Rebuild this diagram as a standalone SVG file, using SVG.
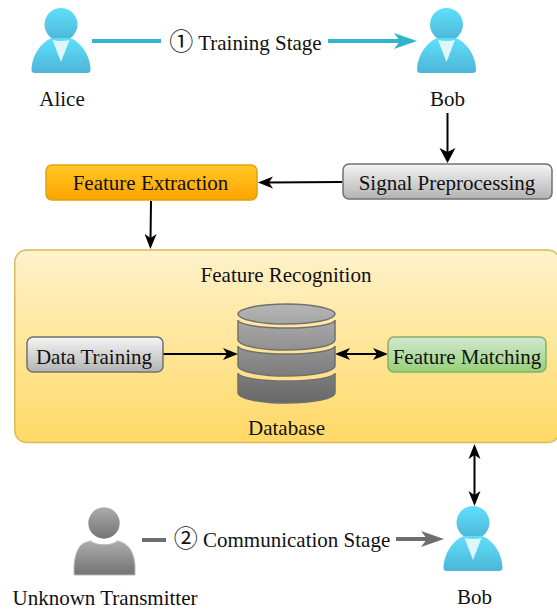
<svg xmlns="http://www.w3.org/2000/svg" width="557" height="612" viewBox="0 0 557 612">
<style>
text{font-family:"Liberation Serif","Noto Sans CJK SC","Times New Roman",serif;fill:#111;font-size:21px;text-anchor:middle}
.n{font-size:24px}
.c{stroke:#000;stroke-width:2;fill:none}
.box{stroke-width:1.5}
.grayb{fill:url(#gBox);stroke:#707070}
.db{fill:url(#gDb);stroke:#707070;stroke-width:1.5}
</style>
<defs>
<linearGradient id="gUser" x1="0" y1="0" x2="0" y2="1"><stop offset="0" stop-color="#5fdffc"/><stop offset="1" stop-color="#4db5d6"/></linearGradient>
<linearGradient id="gGray" x1="0" y1="0" x2="0" y2="1"><stop offset="0" stop-color="#acacac"/><stop offset="1" stop-color="#737373"/></linearGradient>
<linearGradient id="gBox" x1="0" y1="0" x2="0" y2="1"><stop offset="0" stop-color="#f5f5f5"/><stop offset="1" stop-color="#b3b3b3"/></linearGradient>
<linearGradient id="gOrange" x1="0" y1="0" x2="0" y2="1"><stop offset="0" stop-color="#ffc928"/><stop offset="1" stop-color="#ffa300"/></linearGradient>
<linearGradient id="gGreen" x1="0" y1="0" x2="0" y2="1"><stop offset="0" stop-color="#d5e8d4"/><stop offset="1" stop-color="#97d077"/></linearGradient>
<linearGradient id="gPanel" x1="0" y1="0" x2="0" y2="1"><stop offset="0" stop-color="#fff2cc"/><stop offset="1" stop-color="#ffd966"/></linearGradient>
<linearGradient id="gDb" gradientUnits="userSpaceOnUse" x1="0" y1="304" x2="0" y2="404"><stop offset="0" stop-color="#b5b5b5"/><stop offset="1" stop-color="#666"/></linearGradient>
<marker id="ab" markerUnits="userSpaceOnUse" markerWidth="16" markerHeight="14" refX="6" refY="7" orient="auto-start-reverse"><path d="M0 1L15 7L0 13L4 7Z" fill="#000"/></marker>
<marker id="abL" markerUnits="userSpaceOnUse" markerWidth="16" markerHeight="18" refX="6" refY="9" orient="auto-start-reverse"><path d="M0 1L15 9L0 17L4 9Z" fill="#000"/></marker>
<marker id="at" markerUnits="userSpaceOnUse" markerWidth="24" markerHeight="18" refX="12" refY="9" orient="auto"><path d="M0 1L23 9L0 17L6 9Z" fill="#31b4cc"/></marker>
<marker id="ag" markerUnits="userSpaceOnUse" markerWidth="24" markerHeight="18" refX="12" refY="9" orient="auto"><path d="M0 1L23 9L0 17L6 9Z" fill="#6e6e6e"/></marker>
<g id="person">
<circle cx="0" cy="-15.500" r="16.500" fill="url(#gUser)"/>
<path d="M-29.500 30C-29.500 18-22 3-9-2L9-2C22 3 29.500 18 29.500 30Q29.500 33 26 33L-26 33Q-29.500 33-29.500 30Z" fill="url(#gUser)"/>
<path d="M-8.500 0Q0 2 8.500 0L0 22Z" fill="#dff6fd"/>
</g>
</defs>
<g id="panel"><rect x="14.800" y="250" width="545" height="192.500" rx="12" fill="url(#gPanel)" stroke="#dcb95a" stroke-width="1.500"/><text x="286" y="282">Feature Recognition</text></g>
<g id="connectors">
<path d="M92 41H161" stroke="#31b4cc" stroke-width="4" fill="none"/>
<path d="M328 41H406" stroke="#31b4cc" stroke-width="4" fill="none" marker-end="url(#at)"/>
<path d="M447.500 113V154" class="c" marker-end="url(#abL)"/>
<path d="M342 182L267 182.500" class="c" marker-end="url(#ab)"/>
<path d="M151 201L150.500 240" class="c" marker-end="url(#ab)"/>
<path d="M163 354H229" class="c" marker-end="url(#ab)"/>
<path d="M344 354H379" class="c" marker-start="url(#ab)" marker-end="url(#ab)"/>
<path d="M474.500 453V497" class="c" marker-start="url(#ab)" marker-end="url(#ab)"/>
<path d="M142 540H166" stroke="#6e6e6e" stroke-width="4" fill="none"/>
<path d="M396 539H433" stroke="#6e6e6e" stroke-width="4" fill="none" marker-end="url(#ag)"/>
</g>
<g id="alice"><use href="#person" x="61" y="40"/><text x="62" y="106">Alice</text></g>
<g id="bob1"><use href="#person" x="446.500" y="40"/><text x="447.500" y="106">Bob</text></g>
<g id="stage1"><text x="245.500" y="50"><tspan class="n">①</tspan> Training Stage</text></g>
<g id="feature-extraction"><rect x="46" y="165" width="211" height="35" rx="6" fill="url(#gOrange)" stroke="#dfa20c" class="box"/><text x="150.500" y="190">Feature Extraction</text></g>
<g id="signal-preprocessing"><rect x="343" y="164" width="209" height="35" rx="6" class="box grayb"/><text x="447" y="190">Signal Preprocessing</text></g>
<g id="data-training"><rect x="27" y="337" width="136" height="35" rx="6" class="box grayb"/><text x="94" y="364">Data Training</text></g>
<g id="feature-matching"><rect x="388" y="337" width="158" height="35" rx="6" fill="url(#gGreen)" stroke="#82b366" class="box"/><text x="467" y="364">Feature Matching</text></g>
<g id="database">
<path d="M238 320V340A48.500 10 0 0 0 335 340V320A48.500 8 0 0 1 238 320Z" class="db"/>
<path d="M238 346V366A48.500 10 0 0 0 335 366V346A48.500 8 0 0 1 238 346Z" class="db"/>
<path d="M238 373V393A48.500 10 0 0 0 335 393V373A48.500 8 0 0 1 238 373Z" class="db"/>
<ellipse cx="286.500" cy="314" rx="48.500" ry="10" class="db"/>
<text x="286.500" y="435">Database</text>
</g>
<g id="transmitter">
<circle cx="104" cy="523" r="15.700" fill="url(#gGray)"/>
<path d="M74 575V565C75 555 78 546 84 543C87 542 90 541 91 541C95 546 113 546 117 541C118 541 122 542 125 544C131 548 134 555 135 565V575Z" fill="url(#gGray)" stroke="#bbb" stroke-width="1"/>
<text x="105" y="605">Unknown Transmitter</text>
</g>
<g id="stage2"><text x="282" y="547"><tspan class="n">②</tspan> Communication Stage</text></g>
<g id="bob2"><use href="#person" x="473" y="538"/><text x="474.500" y="604">Bob</text></g>
</svg>
